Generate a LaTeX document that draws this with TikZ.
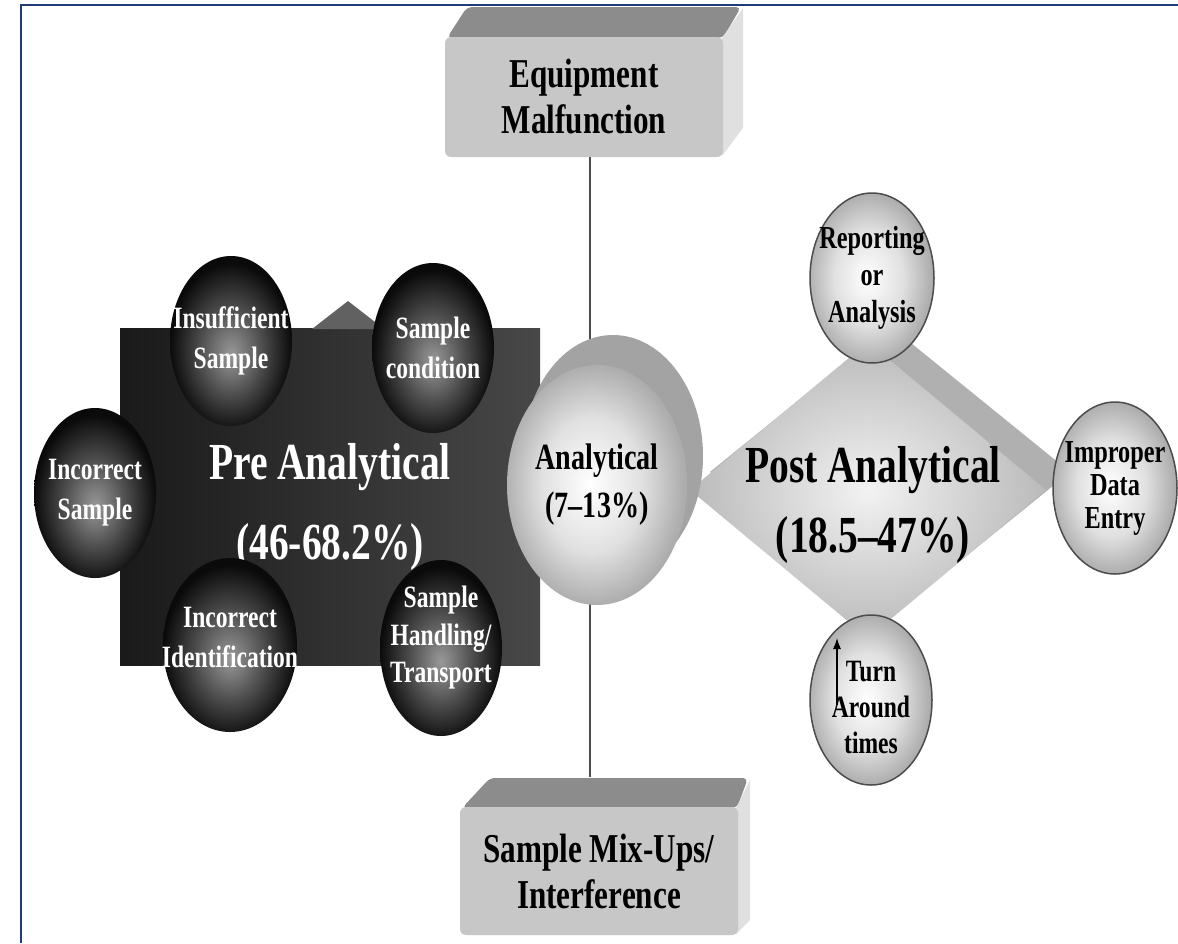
\documentclass[tikz,border=0pt]{standalone}
\usepackage{fontspec}
\setmainfont{Liberation Serif}[FakeStretch=0.76]
\usetikzlibrary{shapes.geometric,arrows.meta}
\definecolor{framenavy}{HTML}{1F3C7A}
\pgfdeclareradialshading{darkorb}{\pgfpoint{0bp}{-4bp}}{color(0bp)=(black!40); color(13bp)=(black!70); color(25bp)=(black!96); color(50bp)=(black!96)}
\pgfdeclareradialshading{lightorb}{\pgfpoint{-2bp}{0bp}}{color(0bp)=(white); color(14bp)=(black!12); color(25bp)=(black!32); color(50bp)=(black!32)}
\pgfdeclareradialshading{postface}{\pgfpoint{0bp}{0bp}}{color(0bp)=(black!5); color(25bp)=(black!27); color(50bp)=(black!27)}

\begin{document}
\begin{tikzpicture}[x=1pt, y=-1pt]
 \tikzstyle{darkball}=[ellipse, shading=darkorb, minimum width=122, minimum height=170, inner sep=0]
 \tikzstyle{wlbl}=[text=white, align=center, font=\fontsize{31}{40}\selectfont\bfseries]
 \tikzstyle{lightball}=[ellipse, draw=black!70, line width=1.5, shading=lightorb, minimum width=122, minimum height=170, inner sep=0]
 \tikzstyle{blbl}=[align=center, font=\fontsize{32}{36}\selectfont\bfseries]
 \tikzstyle{frontbox}=[rectangle, rounded corners=6, fill=black!22, minimum width=278, align=center, font=\fontsize{41}{46}\selectfont\bfseries]
 \tikzstyle{topface}=[fill=black!45, rounded corners=5]
 \tikzstyle{sideface}=[fill=black!12]
 \tikzstyle{vline}=[black!70, line width=1.2]
 \tikzstyle{turnarrow}=[-{Latex[length=11pt, width=8pt]}, line width=1.2]
 %
 \useasboundingbox (0,0) rectangle (1178,943);
 \draw[framenavy, line width=2] (21,943) -- (21,5) -- (1178,5);
 %
 \fill[topface] (447,38) -- (467,7) -- (741,7) -- (723,38) -- cycle;
 \fill[sideface] (722,38) -- (743,8) -- (743,128) -- (722,156) -- cycle;
 \node[frontbox, minimum height=120] (equip) at (584,97) {Equipment\\Malfunction};
 %
 \fill[topface] (462,808) -- (490,778) -- (748,778) -- (737,808) -- cycle;
 \fill[sideface] (736,808) -- (750,780) -- (750,920) -- (736,934) -- cycle;
 \node[frontbox, minimum height=128] (mix) at (599,871) {Sample Mix-Ups/\\Interference};
 %
 \draw[vline] ([xshift=6]equip.south) -- ([xshift=-9, yshift=30]mix.north);
 %
 \node[rectangle, minimum width=420, minimum height=337, inner sep=0, left color=black!90, right color=black!72,
   label={[text=white, align=center, font=\fontsize{52}{80}\selectfont\bfseries, yshift=-10]center:{Pre Analytical\\(46-68.2\%)}}] (pre) at (330,496.5) {};
 \fill[black!62] (312,329) -- (348,301) -- (384,329) -- cycle;
 %
 \node[darkball, label={[wlbl]center:{Insufficient\\Sample}}] (insuf) at (231,341) {};
 \node[darkball, label={[wlbl]center:{Sample\\condition}}] (cond) at (433,348) {};
 \node[darkball, label={[wlbl]center:{Incorrect\\Sample}}] (incsam) at (95,493) {};
 \node[darkball, minimum width=134, minimum height=174, label={[wlbl, yshift=8]center:{Incorrect\\Identification}}] (incid) at (230,645) {};
 \node[darkball, minimum height=176, label={[wlbl, font=\fontsize{31}{37.5}\selectfont\bfseries, yshift=10]center:{Sample\\Handling/\\Transport}}] (handl) at (441,648) {};
 %
 \fill[black!31] (890,326) -- (1070,472) -- (890,618) -- (710,472) -- cycle;
 \node[diamond, shading=postface, minimum width=356, minimum height=296, inner sep=0,
   label={[align=center, font=\fontsize{52}{70}\selectfont\bfseries, yshift=-15, xshift=5]center:{Post Analytical\\(18.5–47\%)}}] (post) at (868,490) {};
 %
 \fill[black!36] (613,456) ellipse [x radius=90, y radius=121];
 \node[ellipse, shading=lightorb, minimum width=180, minimum height=240, inner sep=0,
   label={[align=center, font=\fontsize{37}{48}\selectfont\bfseries]center:{Analytical\\(7–13\%)}}] (anal) at (597,485) {};
 %
 \node[lightball, minimum width=124, label={[blbl, font=\fontsize{32}{37}\selectfont\bfseries]center:{Reporting\\or\\Analysis}}] (report) at (872,278) {};
 \node[lightball, minimum width=124, minimum height=172, label={[blbl, font=\fontsize{32}{33}\selectfont\bfseries]center:{Improper\\Data\\Entry}}] (improp) at (1115,488) {};
 \node[lightball, label={[blbl, font=\fontsize{31}{36}\selectfont\bfseries, yshift=-7]center:{Turn\\Around\\times}}] (turn) at (871,700) {};
 %
 \coordinate (tatail) at ([shift={(-34,5)}]turn.center);
 \coordinate (tahead) at ([shift={(-34,-62)}]turn.center);
 \draw[turnarrow] (tatail) -- (tahead);
\end{tikzpicture}
\end{document}
